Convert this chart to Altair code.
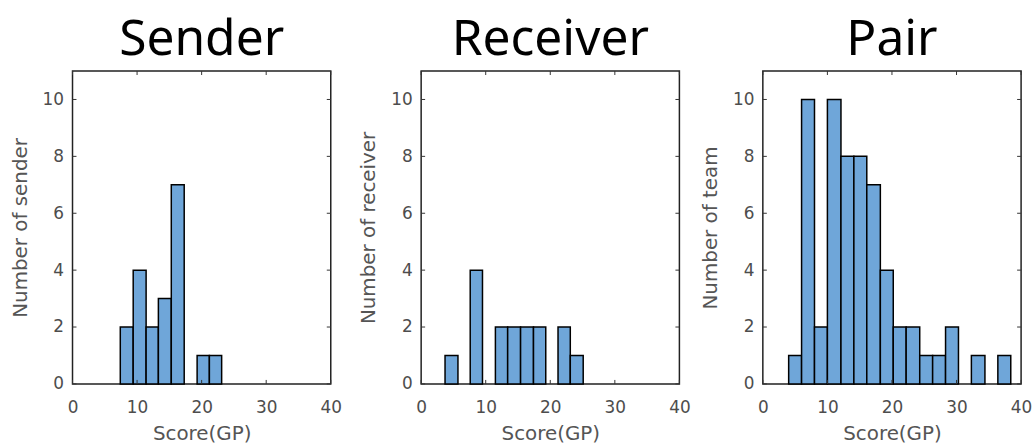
import altair as alt
import pandas as pd

# Bin edges and counts
sender_edges = [7.4, 9.4, 11.4, 13.3, 15.3, 17.3, 19.3, 21.2, 23.1]
sender_counts = [2, 4, 2, 3, 7, 0, 1, 1]

receiver_edges = [3.7, 5.7, 7.6, 9.5, 11.5, 13.4, 15.4, 17.4, 19.3, 21.2, 23.1, 25.1]
receiver_counts = [1, 0, 4, 0, 2, 2, 2, 2, 0, 2, 1]

pair_edges = [4.0, 6.0, 8.0, 10.0, 12.1, 14.1, 16.1, 18.2, 20.2, 22.2, 24.3,
              26.3, 28.3, 30.3, 32.3, 34.4, 36.4, 38.4]
pair_counts = [1, 10, 2, 10, 8, 8, 7, 4, 2, 2, 1, 1, 2, 0, 1, 0, 1]

x_ticks = [0, 10, 20, 30, 40]
y_ticks = [0, 2, 4, 6, 8, 10]
x_domain = [0, 40]
y_domain = [0, 11]

W, H = 260, 315
FONT = "DejaVu Sans"
BAR_COLOR = "#6fa6d9"


def panel(title, edges, counts, ytitle):
    df = pd.DataFrame({"start": edges[:-1], "end": edges[1:], "count": counts})
    xs = alt.Scale(domain=x_domain, nice=False, zero=False)
    ys = alt.Scale(domain=y_domain, nice=False)
    xa = alt.Axis(values=x_ticks, title="Score(GP)", labelPadding=16,
                  titlePadding=8, labelFlush=False)
    ya = alt.Axis(values=y_ticks, title=ytitle, labelPadding=9, titlePadding=12)
    bars = alt.Chart(df).transform_filter("datum.count > 0").mark_bar(
        color=BAR_COLOR, stroke="black", strokeWidth=1.5
    ).encode(
        x=alt.X("start:Q", scale=xs, axis=xa),
        x2="end:Q",
        y=alt.Y("count:Q", scale=ys, axis=ya),
        y2=alt.datum(0),
    )
    xt = pd.DataFrame({"start": x_ticks})
    yt = pd.DataFrame({"count": y_ticks})
    tick_style = dict(color="#333", strokeWidth=1)
    xb = alt.Chart(xt).mark_rule(**tick_style).encode(
        x=alt.X("start:Q", scale=xs, axis=xa), y=alt.value(H), y2=alt.value(H - 4))
    xtop = alt.Chart(xt).mark_rule(**tick_style).encode(
        x=alt.X("start:Q", scale=xs, axis=xa), y=alt.value(0), y2=alt.value(4))
    yl = alt.Chart(yt).mark_rule(**tick_style).encode(
        y=alt.Y("count:Q", scale=ys, axis=ya), x=alt.value(0), x2=alt.value(4))
    yr = alt.Chart(yt).mark_rule(**tick_style).encode(
        y=alt.Y("count:Q", scale=ys, axis=ya), x=alt.value(W - 4), x2=alt.value(W))
    return alt.layer(bars, xb, xtop, yl, yr).properties(
        width=W, height=H,
        title=alt.TitleParams(title, fontSize=50, font="Noto Sans", fontWeight="normal",
                              color="black", anchor="middle", offset=6),
    )


left_pair = alt.hconcat(
    panel("Sender", sender_edges, sender_counts, "Number of sender"),
    panel("Receiver", receiver_edges, receiver_counts, "Number of receiver"),
    spacing=15,
)
chart = alt.hconcat(
    left_pair,
    panel("Pair", pair_edges, pair_counts, "Number of team"),
    spacing=8,
).properties(
    padding={"left": 9, "top": 12, "right": 2, "bottom": 1},
    background="white",
).configure_view(
    stroke="#222", strokeWidth=1.5
).configure_axis(
    domain=False, ticks=False, grid=False,
    labelFont=FONT, labelFontSize=17, labelColor="#4d4d4d",
    titleFont=FONT, titleFontSize=20, titleColor="#555", titleFontWeight="normal",
)

chart.save("out.html", embed_options={"renderer": "svg", "actions": False})
